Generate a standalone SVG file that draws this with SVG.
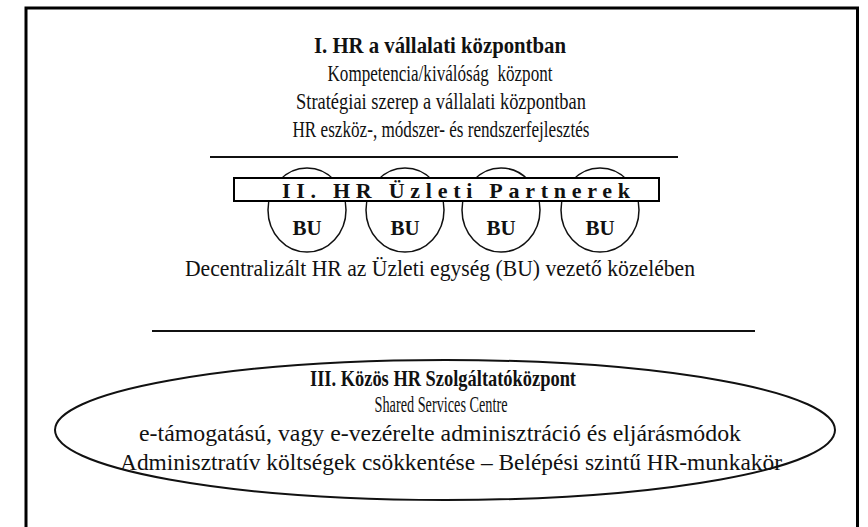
<svg xmlns="http://www.w3.org/2000/svg" width="868" height="527" viewBox="0 0 868 527">
<style>
.t{font-family:"Liberation Serif","Times New Roman",serif;font-size:24px;fill:#111;text-anchor:middle}
.b{font-weight:bold}
.bu{font-size:21px;font-weight:bold}
.ln{stroke:#111;stroke-width:2;fill:none}
.sh{stroke:#111;stroke-width:1.5;fill:none}
</style>
<rect width="868" height="527" fill="#fff"/>
<path d="M26,540 V8 H857.5 V540" fill="none" stroke="#000" stroke-width="3"/>
<g id="level1">
<text class="t b" x="440" y="53" textLength="252" lengthAdjust="spacingAndGlyphs">I. HR a vállalati központban</text>
<text class="t" x="440" y="81" xml:space="preserve" textLength="225" lengthAdjust="spacingAndGlyphs">Kompetencia/kiválóság  központ</text>
<text class="t" x="441" y="109" textLength="290" lengthAdjust="spacingAndGlyphs">Stratégiai szerep a vállalati központban</text>
<text class="t" x="441" y="137" textLength="297" lengthAdjust="spacingAndGlyphs">HR eszköz-, módszer- és rendszerfejlesztés</text>
</g>
<g id="connectors">
<line class="ln" x1="210" y1="157" x2="678" y2="157"/>
<line class="ln" x1="152" y1="331" x2="755" y2="331"/>
</g>
<g id="bu1"><ellipse class="sh" cx="307" cy="210" rx="39" ry="42"/><text class="t bu" x="307" y="235">BU</text></g>
<g id="bu2"><ellipse class="sh" cx="405" cy="210" rx="39" ry="42"/><text class="t bu" x="405" y="235">BU</text></g>
<g id="bu3"><ellipse class="sh" cx="501" cy="210" rx="39" ry="42"/><text class="t bu" x="501" y="235">BU</text></g>
<g id="bu4"><ellipse class="sh" cx="600" cy="210" rx="39" ry="42"/><text class="t bu" x="600" y="235">BU</text></g>
<g id="level2">
<rect x="234" y="178" width="425" height="23" fill="#fff" stroke="#000" stroke-width="2"/>
<text class="t b" x="456" y="198" style="font-size:22px" textLength="348" lengthAdjust="spacing">II. HR Üzleti Partnerek</text>
<text class="t" x="440" y="276" textLength="510" lengthAdjust="spacingAndGlyphs">Decentralizált HR az Üzleti egység (BU) vezető közelében</text>
</g>
<g id="level3">
<ellipse class="sh" cx="445" cy="430" rx="390" ry="70" style="stroke-width:2"/>
<text class="t b" x="443" y="386" textLength="266" lengthAdjust="spacingAndGlyphs">III. Közös HR Szolgáltatóközpont</text>
<text class="t" x="441" y="412" textLength="133" lengthAdjust="spacingAndGlyphs">Shared Services Centre</text>
<text class="t" x="440" y="441" textLength="602" lengthAdjust="spacingAndGlyphs">e-támogatású, vagy e-vezérelte adminisztráció és eljárásmódok</text>
<text class="t" x="451" y="470" textLength="662" lengthAdjust="spacingAndGlyphs">Adminisztratív költségek csökkentése – Belépési szintű HR-munkakör</text>
</g>
</svg>
